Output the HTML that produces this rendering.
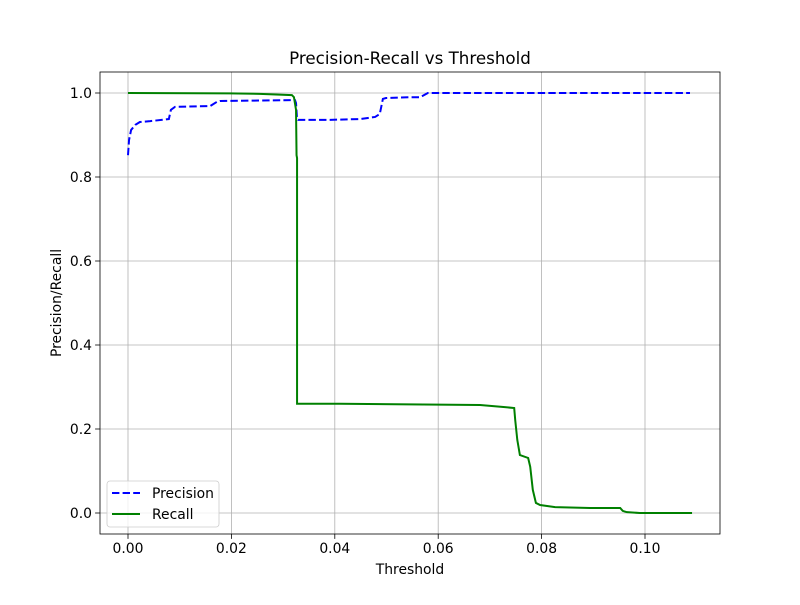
<!DOCTYPE html>
<html><head><meta charset="utf-8"><style>body{margin:0;background:#fff}svg{font-family:"DejaVu Sans","Liberation Sans",sans-serif}</style></head>
<body>
<svg id="chart" width="800" height="600"></svg>
<script>
const xTicks=[0,0.02,0.04,0.06,0.08,0.10];
const xTickLabels=["0.00","0.02","0.04","0.06","0.08","0.10"];
const yTicks=[0,0.2,0.4,0.6,0.8,1.0];
const yTickLabels=["0.0","0.2","0.4","0.6","0.8","1.0"];
const precisionX=[0,0.0002,0.0006,0.0014,0.0023,0.0043,0.0079,0.0083,0.0091,0.0159,0.0172,0.0178,0.0323,0.0325,0.0327,0.0329,0.0391,0.0449,0.0478,0.0487,0.0493,0.0499,0.0545,0.0565,0.058,0.1087];
const precisionY=[0.852,0.888,0.912,0.924,0.931,0.933,0.938,0.960,0.967,0.969,0.979,0.981,0.983,0.976,0.938,0.936,0.936,0.938,0.943,0.950,0.986,0.988,0.990,0.990,1.0,1.0];
const recallX=[0,0.0197,0.0255,0.0317,0.0321,0.0325,0.0326,0.0327,0.0327,0.0410,0.0681,0.0729,0.0747,0.0749,0.0753,0.0758,0.0774,0.0778,0.0783,0.0789,0.0797,0.0826,0.0894,0.0952,0.0957,0.0965,0.099,0.1091];
const recallY=[1.0,0.999,0.998,0.995,0.990,0.960,0.852,0.845,0.260,0.260,0.257,0.252,0.250,0.221,0.174,0.138,0.131,0.110,0.055,0.024,0.019,0.014,0.012,0.012,0.005,0.002,0.0,0.0];

const NS="http://www.w3.org/2000/svg";
const svg=document.getElementById('chart');
const L=100,R=720,T=72,B=534;
const sx=v=>128+v*5170;
const sy=v=>513-v*420;
function mk(tag,attrs,parent){const e=document.createElementNS(NS,tag);for(const k in attrs)e.setAttribute(k,attrs[k]);(parent||svg).appendChild(e);return e;}

const grid=mk('g',{});


xTicks.forEach((t,i)=>{
  const x=sx(t);
  const gl=mk('line',{x1:x,x2:x,y1:T,y2:B,stroke:'#b0b0b0','stroke-width':0.8},grid);
  
  
  mk('line',{x1:x,x2:x,y1:B,y2:B+4.9,stroke:'#000','stroke-width':0.8});
  const tx=mk('text',{x:x,y:B+19,'text-anchor':'middle','font-size':13.9});
  tx.textContent=xTickLabels[i];
  
  
});
yTicks.forEach((t,i)=>{
  const y=sy(t);
  const gl=mk('line',{x1:L,x2:R,y1:y,y2:y,stroke:'#b0b0b0','stroke-width':0.8},grid);
  
  
  mk('line',{x1:L-4.9,x2:L,y1:y,y2:y,stroke:'#000','stroke-width':0.8});
  const tx=mk('text',{x:L-8,y:y+5,'text-anchor':'end','font-size':13.9});
  tx.textContent=yTickLabels[i];
  
  
});
function pts(xs,ys){return xs.map((v,i)=>sx(v)+','+sy(ys[i])).join(' ');}
const pl=mk('polyline',{points:pts(precisionX,precisionY),fill:'none',stroke:'#0000ff','stroke-width':2,'stroke-dasharray':'7.4,3.2'});


const rl=mk('polyline',{points:pts(recallX,recallY),fill:'none',stroke:'#008000','stroke-width':2});


const frame=mk('rect',{x:L,y:T,width:R-L,height:B-T,fill:'none',stroke:'#000','stroke-width':0.8});


const title=mk('text',{x:410,y:64,'text-anchor':'middle','font-size':16.7});
title.textContent='Precision-Recall vs Threshold';


const xl=mk('text',{x:410,y:574,'text-anchor':'middle','font-size':13.9});
xl.textContent='Threshold';


const yl=mk('text',{x:0,y:0,'text-anchor':'middle','font-size':13.9,transform:'translate(61,303) rotate(-90)'});
yl.textContent='Precision/Recall';


const lg=mk('g',{});


mk('rect',{x:107,y:481,width:112,height:46,rx:3,fill:'#fff','fill-opacity':0.8,stroke:'#ccc','stroke-width':0.8},lg);
const l1=mk('line',{x1:112,x2:140,y1:493,y2:493,stroke:'#0000ff','stroke-width':2,'stroke-dasharray':'7.4,3.2'},lg);


const t1=mk('text',{x:152,y:498,'font-size':13.9},lg);t1.textContent='Precision';
const l2=mk('line',{x1:112,x2:140,y1:514,y2:514,stroke:'#008000','stroke-width':2},lg);


const t2=mk('text',{x:152,y:519,'font-size':13.9},lg);t2.textContent='Recall';
</script>
</body></html>
